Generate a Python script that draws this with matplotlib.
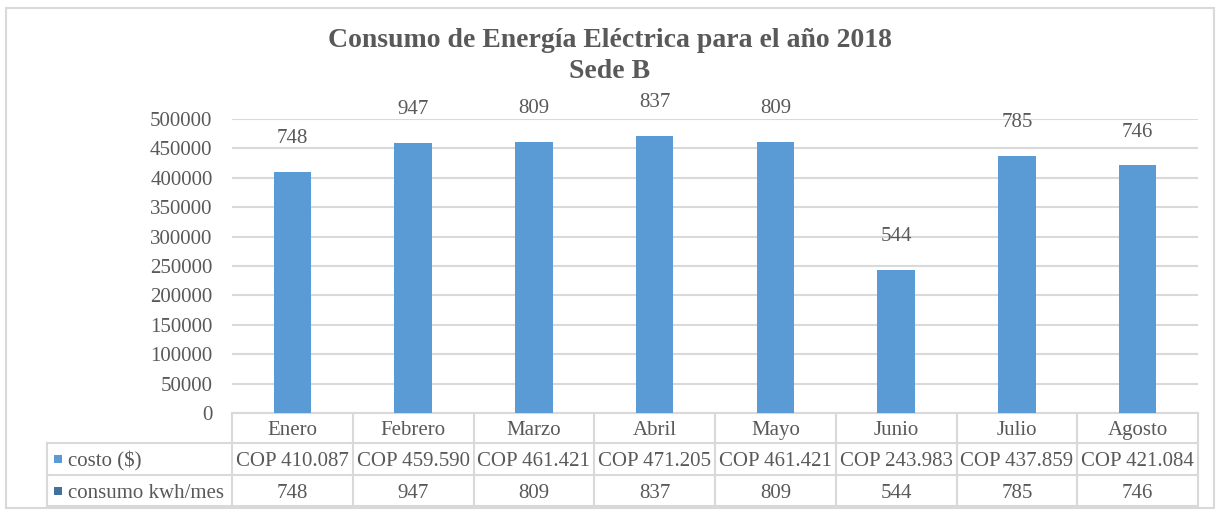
import matplotlib
matplotlib.use("Agg")
import matplotlib.pyplot as plt
from matplotlib.patches import Rectangle

# ============================================================
# Data
# ============================================================

MONTHS = ["Enero", "Febrero", "Marzo", "Abril", "Mayo", "Junio", "Julio", "Agosto"]
COSTO = [410087, 459590, 461421, 471205, 461421, 243983, 437859, 421084]
CONSUMO = [748, 947, 809, 837, 809, 544, 785, 746]

TITLE = "Consumo de Energía Eléctrica para el año 2018\nSede B"
SERIES_NAMES = ["costo ($)", "consumo kwh/mes"]

# ============================================================
# Style
# ============================================================

BAR_COLOR = "#5B9BD5"
CONSUMO_COLOR = "#41719C"
TEXT_COLOR = "#595959"
GRID_COLOR = "#D9D9D9"
FONT = "Liberation Serif"
FS = 15

plt.rcParams["font.family"] = FONT

W, H = 1220, 512
AX_L, AX_R, AX_T, AX_B = 232, 1198, 119, 413   # plot area in px
AX_H = AX_B - AX_T
TBL_LEFT = 47                                   # px, left edge of table
ROW_EDGES = [413, 443, 475, 506]                # px, table row boundaries


def fmt_cop(v):
    return "COP " + f"{v:,}".replace(",", ".")


def py_to_axes(py):
    return (AX_B - py) / AX_H


def main():
    fig = plt.figure(figsize=(W / 100, H / 100), dpi=100)

    # chart area border
    fig.patches.append(Rectangle((6 / W, 1 - 508 / H), 1208 / W, 500 / H,
                                 transform=fig.transFigure, fill=False,
                                 edgecolor=GRID_COLOR, linewidth=1.5))

    ax = fig.add_axes([AX_L / W, 1 - AX_B / H, (AX_R - AX_L) / W, AX_H / H])

    n = len(MONTHS)
    x = list(range(n))
    ax.bar(x, COSTO, width=0.31, color=BAR_COLOR, zorder=3)
    ax.set_xlim(-0.5, n - 0.5)
    ax.set_ylim(0, 500000)
    ax.set_yticks(range(0, 500001, 50000))
    ax.set_xticks([])
    ax.yaxis.grid(True, color=GRID_COLOR, linewidth=1.5, zorder=0)
    ax.tick_params(axis="y", length=0, pad=14, labelsize=FS, labelcolor=TEXT_COLOR)
    for s in ax.spines.values():
        s.set_visible(False)

    # data labels (consumo) above bars
    for xi, c, k in zip(x, COSTO, CONSUMO):
        ax.annotate(str(k), (xi, c), xytext=(0, 24), textcoords="offset points",
                    ha="center", va="center", fontsize=FS, color=TEXT_COLOR,
                    annotation_clip=False)

    fig.text(0.5, 1 - 56 / H, TITLE, ha="center", va="center", fontsize=20,
             fontweight="bold", color=TEXT_COLOR, linespacing=1.3)

    # ---------------- data table ----------------
    tr = ax.get_xaxis_transform()
    col_w_px = (AX_R - AX_L) / n
    x_left = -0.5 - (AX_L - TBL_LEFT) / col_w_px
    line_kw = dict(color=GRID_COLOR, linewidth=1.5, transform=tr, clip_on=False)

    ys = [py_to_axes(p) for p in ROW_EDGES]
    ax.plot([-0.5, n - 0.5], [ys[0], ys[0]], **line_kw)
    for yy in ys[1:]:
        ax.plot([x_left, n - 0.5], [yy, yy], **line_kw)
    ax.plot([x_left, x_left], [ys[1], ys[3]], **line_kw)
    for k in range(n + 1):
        ax.plot([k - 0.5, k - 0.5], [ys[0], ys[3]], **line_kw)

    centers = [(ys[i] + ys[i + 1]) / 2 for i in range(3)]
    rows = [MONTHS, [fmt_cop(v) for v in COSTO], [str(v) for v in CONSUMO]]
    for cy, vals in zip(centers, rows):
        for xi, v in zip(x, vals):
            ax.text(xi, cy, v, transform=tr, ha="center", va="center_baseline",
                    fontsize=FS, color=TEXT_COLOR)

    # legend keys in row labels
    px = col_w_px
    for name, col, cy in zip(SERIES_NAMES, [BAR_COLOR, CONSUMO_COLOR], centers[1:]):
        ax.add_patch(Rectangle((-0.5 - (AX_L - 54) / px, cy - 4 / AX_H), 8 / px, 8 / AX_H,
                               transform=tr, facecolor=col,
                               edgecolor="none", clip_on=False))
        ax.text(-0.5 - (AX_L - 68) / px, cy, name, transform=tr,
                ha="left", va="center_baseline", fontsize=FS, color=TEXT_COLOR)

    fig.savefig("out.png", dpi=100)
    plt.close(fig)


if __name__ == "__main__":
    main()
